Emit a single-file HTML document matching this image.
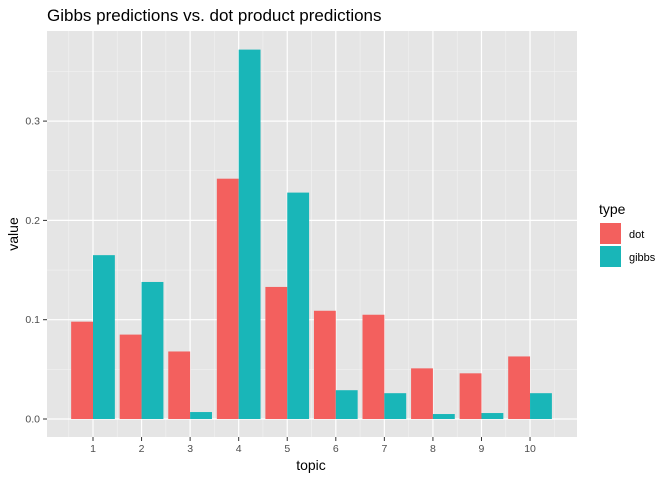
<!DOCTYPE html>
<html><head><meta charset="utf-8"><style>
body{margin:0;background:#fff;font-family:"Liberation Sans",sans-serif;}
</style></head><body>
<svg width="672" height="480" xmlns="http://www.w3.org/2000/svg" font-family="Liberation Sans, sans-serif">
<text x="47" y="21" font-size="17" fill="#000">Gibbs predictions vs. dot product predictions</text>
<rect x="47" y="31" width="530" height="406" fill="#e5e5e5"/>
<g id="grid"></g>
<g id="bars"></g>
<g id="axes"></g>
<text x="311" y="470" font-size="14" text-anchor="middle">topic</text>
<text transform="translate(18,234) rotate(-90)" font-size="14" text-anchor="middle">value</text>
<g>
<text x="599" y="214" font-size="14">type</text>
<rect x="600" y="223" width="21" height="21" fill="#F3605E"/>
<text x="629" y="238" font-size="11">dot</text>
<rect x="600" y="246" width="21" height="21" fill="#19B6B8"/>
<text x="629" y="261" font-size="11">gibbs</text>
</g>
</svg>
<script>
const categories=["1","2","3","4","5","6","7","8","9","10"];
const dotValues=[0.098,0.085,0.068,0.242,0.133,0.109,0.105,0.051,0.046,0.063];
const gibbsValues=[0.165,0.138,0.007,0.372,0.228,0.029,0.026,0.005,0.006,0.026];
const yTicks=[0,0.1,0.2,0.3];
const yTickLabels=["0.0","0.1","0.2","0.3"];
const NS="http://www.w3.org/2000/svg";
const step=48.56;
function x(i){return 93+i*step;}
function y(v){return 419-v*993;}
function mk(tag,attrs,parent){const e=document.createElementNS(NS,tag);for(const k in attrs)e.setAttribute(k,attrs[k]);document.getElementById(parent).appendChild(e);return e;}
[0.05,0.15,0.25,0.35].forEach(v=>{const l=mk('line',{x1:47,x2:577,y1:y(v),y2:y(v),stroke:'#f2f2f2','stroke-width':0.6},'grid');

});
for(let i=0;i<categories.length+1;i++){const l=mk('line',{x1:x(i-0.5),x2:x(i-0.5),y1:31,y2:437,stroke:'#f2f2f2','stroke-width':0.6},'grid');

}
yTicks.forEach((v,k)=>{const l=mk('line',{x1:47,x2:577,y1:y(v),y2:y(v),stroke:'#fff','stroke-width':1.2},'grid');


const t=mk('line',{x1:43,x2:47,y1:y(v),y2:y(v),stroke:'#333','stroke-width':1},'axes');


const tx=mk('text',{x:40,y:y(v)+3.5,'font-size':10.5,'text-anchor':'end',fill:'#4d4d4d'},'axes');
tx.textContent=yTickLabels[k];

});
categories.forEach((c,i)=>{const l=mk('line',{x1:x(i),x2:x(i),y1:31,y2:437,stroke:'#fff','stroke-width':1.2},'grid');


const bw=step*0.45;
const b1=mk('rect',{x:x(i)-bw,y:y(dotValues[i]),width:bw,height:y(0)-y(dotValues[i]),fill:'#F3605E'},'bars');


const b2=mk('rect',{x:x(i),y:y(gibbsValues[i]),width:bw,height:y(0)-y(gibbsValues[i]),fill:'#19B6B8'},'bars');


const t=mk('line',{x1:x(i),x2:x(i),y1:437,y2:441,stroke:'#333','stroke-width':1},'axes');


const tx=mk('text',{x:x(i),y:452,'font-size':10.5,'text-anchor':'middle',fill:'#4d4d4d'},'axes');
tx.textContent=c;

});
</script>
</body></html>
